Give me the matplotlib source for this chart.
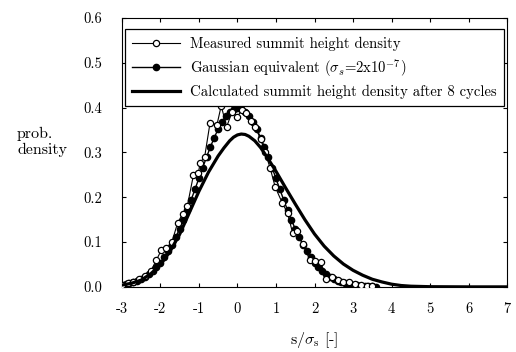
import matplotlib
matplotlib.use("Agg")
import matplotlib.pyplot as plt

plt.rcParams['font.family'] = ['cmr10', 'DejaVu Serif']
plt.rcParams['mathtext.fontset'] = 'cm'
plt.rcParams['axes.unicode_minus'] = False
plt.rcParams['axes.formatter.use_mathtext'] = True

# measured summit height density (open circles)
meas_x = [-3.0, -2.85, -2.7, -2.55, -2.4, -2.25, -2.1, -1.97, -1.84, -1.7,
          -1.55, -1.42, -1.3, -1.14, -1.01, -0.97, -0.85, -0.71, -0.53, -0.42,
          -0.28, -0.14, 0.0, 0.12, 0.23, 0.35, 0.46, 0.6, 0.72, 0.85,
          0.98, 1.16, 1.3, 1.43, 1.55, 1.7, 1.88, 2.02, 2.16, 2.31,
          2.45, 2.6, 2.75, 2.9, 3.05, 3.2, 3.35, 3.5]
meas_y = [0.005, 0.008, 0.012, 0.018, 0.025, 0.035, 0.06, 0.083, 0.087, 0.10,
          0.143, 0.163, 0.18, 0.25, 0.254, 0.277, 0.29, 0.366, 0.362, 0.404,
          0.357, 0.39, 0.38, 0.395, 0.388, 0.37, 0.357, 0.33, 0.30, 0.265,
          0.223, 0.188, 0.165, 0.121, 0.125, 0.095, 0.06, 0.058, 0.056, 0.018,
          0.022, 0.015, 0.01, 0.012, 0.006, 0.004, 0.003, 0.002]

# Gaussian equivalent (filled circles)
gauss_x = [-3.0, -2.9, -2.8, -2.7, -2.6, -2.5, -2.4, -2.3, -2.2, -2.1,
           -2.0, -1.9, -1.8, -1.7, -1.6, -1.5, -1.4, -1.3, -1.2, -1.1,
           -1.0, -0.9, -0.8, -0.7, -0.6, -0.5, -0.4, -0.3, -0.2, -0.1,
           0.0, 0.1, 0.2, 0.3, 0.4, 0.5, 0.6, 0.7, 0.8, 0.9,
           1.0, 1.1, 1.2, 1.3, 1.4, 1.5, 1.6, 1.7, 1.8, 1.9,
           2.0, 2.1, 2.2, 2.3, 2.4, 2.5, 2.6, 2.7, 2.8, 2.9,
           3.0, 3.1, 3.2, 3.3, 3.4, 3.5, 3.6]
gauss_y = [0.0044, 0.0060, 0.0079, 0.0104, 0.0136, 0.0175, 0.0224, 0.0283, 0.0355, 0.0440,
           0.0540, 0.0656, 0.0790, 0.0940, 0.1109, 0.1295, 0.1497, 0.1714, 0.1942, 0.2179,
           0.2420, 0.2661, 0.2897, 0.3123, 0.3332, 0.3521, 0.3683, 0.3814, 0.3910, 0.3970,
           0.3989, 0.3970, 0.3910, 0.3814, 0.3683, 0.3521, 0.3332, 0.3123, 0.2897, 0.2661,
           0.2420, 0.2179, 0.1942, 0.1714, 0.1497, 0.1295, 0.1109, 0.0940, 0.0790, 0.0656,
           0.0540, 0.0440, 0.0355, 0.0283, 0.0224, 0.0175, 0.0136, 0.0104, 0.0079, 0.0060,
           0.0044, 0.0033, 0.0024, 0.0017, 0.0012, 0.0009, 0.0006]

# calculated summit height density after 8 cycles (thick line)
calc_x = [-3.0, -2.75, -2.5, -2.25, -2.0, -1.75, -1.5, -1.25, -1.0, -0.75,
          -0.5, -0.35, -0.2, -0.1, 0.0, 0.1, 0.2, 0.3, 0.45, 0.6,
          0.75, 1.0, 1.25, 1.5, 1.75, 2.0, 2.25, 2.5, 2.75, 3.0,
          3.25, 3.5, 3.75, 4.0, 4.25, 4.5, 5.0, 6.0, 7.0]
calc_y = [0.004, 0.008, 0.015, 0.029, 0.049, 0.079, 0.117, 0.165, 0.213, 0.256,
          0.292, 0.31, 0.326, 0.334, 0.339, 0.341, 0.34, 0.336, 0.326, 0.311,
          0.292, 0.258, 0.221, 0.185, 0.15, 0.118, 0.091, 0.069, 0.051, 0.037,
          0.026, 0.017, 0.011, 0.006, 0.003, 0.0015, 0.0004, 0.0, 0.0]

x_ticks = [-3, -2, -1, 0, 1, 2, 3, 4, 5, 6, 7]
y_ticks = [0.0, 0.1, 0.2, 0.3, 0.4, 0.5, 0.6]

fig = plt.figure(figsize=(5.16, 3.52), dpi=100)
ax = fig.add_axes([0.236, 0.185, 0.747, 0.764])

ax.plot(meas_x, meas_y, color='black', linewidth=0.8, marker='o', markersize=4.5,
        markerfacecolor='white', markeredgecolor='black', markeredgewidth=0.9,
        label='Measured summit height density', zorder=3)
ax.plot(gauss_x, gauss_y, color='black', linewidth=1.0, marker='o', markersize=4.5,
        markerfacecolor='black', label=r'Gaussian equivalent ($\sigma_s$=2x10$^{-7}$)', zorder=2)
ax.plot(calc_x, calc_y, color='black', linewidth=2.3,
        label='Calculated summit height density after 8 cycles', zorder=4)

ax.set_xlim(-3, 7)
ax.set_ylim(0, 0.6)
ax.set_xticks(x_ticks)
ax.set_xticklabels([str(t) for t in x_ticks])
ax.set_yticks(y_ticks)
ax.set_yticklabels(['%.1f' % t for t in y_ticks])
ax.tick_params(direction='in', length=3, top=True, right=True, labelsize=10.5)
ax.tick_params(axis='y', pad=14)
ax.tick_params(axis='x', pad=11)

ax.set_xlabel(r'$\mathrm{s}/\sigma_\mathrm{s}$ [-]', fontsize=11.5, labelpad=10)
fig.text(0.033, 0.597, 'prob.\ndensity', fontsize=11.5, ha='left', va='center',
         linespacing=1.1)

leg = ax.legend(loc='upper center', bbox_to_anchor=(0.5, 0.985), fontsize=10.6,
                handlelength=3.2, fancybox=False, edgecolor='black', framealpha=1,
                borderpad=0.5, labelspacing=0.4, handletextpad=0.7)
leg.get_frame().set_linewidth(0.9)

plt.savefig('out.png', dpi=100)
